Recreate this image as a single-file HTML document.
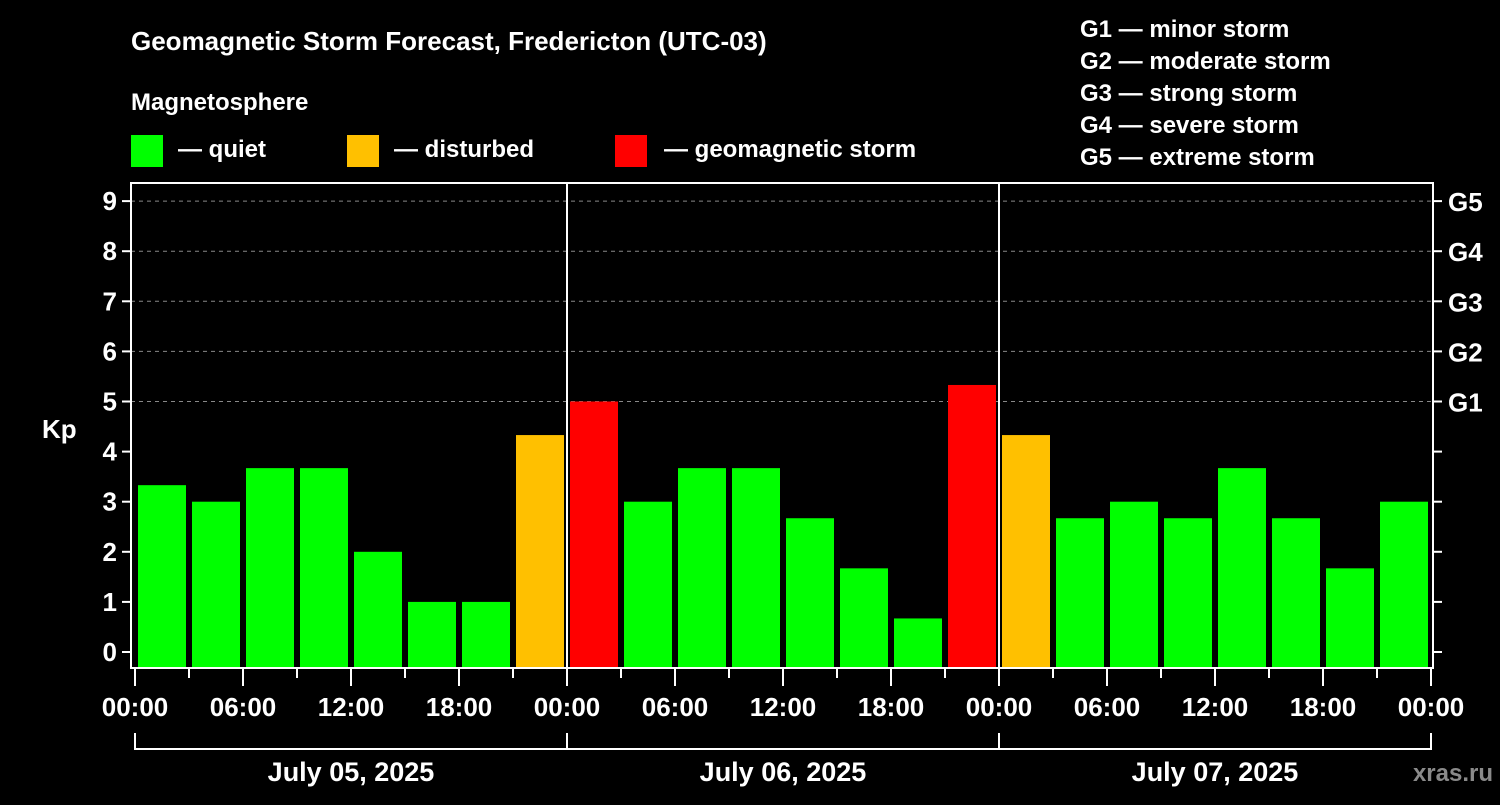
<!DOCTYPE html>
<html><head><meta charset="utf-8"><style>
body{margin:0;background:#000;width:1500px;height:800px;overflow:hidden;font-family:"Liberation Sans",sans-serif}
svg text{font-family:"Liberation Sans",sans-serif;font-weight:bold;fill:#fff}
</style></head><body>
<svg id="c" width="1500" height="800">
<text x="131" y="50" font-size="26">Geomagnetic Storm Forecast, Fredericton (UTC-03)</text>
<text x="131" y="110" font-size="24">Magnetosphere</text>
<rect x="131" y="135" width="32" height="32" fill="#00ff00"/>
<text x="178" y="157" font-size="24">— quiet</text>
<rect x="347" y="135" width="32" height="32" fill="#ffc000"/>
<text x="394" y="157" font-size="24">— disturbed</text>
<rect x="615" y="135" width="32" height="32" fill="#ff0000"/>
<text x="664" y="157" font-size="24">— geomagnetic storm</text>
<g font-size="24">
<text x="1080" y="37">G1 — minor storm</text>
<text x="1080" y="69">G2 — moderate storm</text>
<text x="1080" y="101">G3 — strong storm</text>
<text x="1080" y="133">G4 — severe storm</text>
<text x="1080" y="165">G5 — extreme storm</text>
</g>
<text x="42" y="438" font-size="26">Kp</text>
<text x="1493" y="781" font-size="24" fill="#888" style="fill:#8a8a8a" text-anchor="end">xras.ru</text>
<g id="plot"></g>
</svg>
<script>
const kpValues=[3.33,3,3.67,3.67,2,1,1,4.33, 5,3,3.67,3.67,2.67,1.67,0.67,5.33, 4.33,2.67,3,2.67,3.67,2.67,1.67,3];
const dayLabels=["July 05, 2025","July 06, 2025","July 07, 2025"];
const hourLabels=["00:00","06:00","12:00","18:00"];
const gLabels=["G1","G2","G3","G4","G5"];
const kpTicks=[0,1,2,3,4,5,6,7,8,9];
const NS="http://www.w3.org/2000/svg";
const g=document.getElementById('plot');
const L=131,R=1433,T=183,B=668,X0=135,DAYW=432;
const y=k=>652-50.1*k;
const x=h=>X0+h*DAYW/24;
function mk(t,a){const e=document.createElementNS(NS,t);for(const k in a)e.setAttribute(k,a[k]);g.appendChild(e);return e;}
kpTicks.forEach(k=>{
 if(k>=5){const l=mk('line',{x1:L,x2:R,y1:y(k),y2:y(k),stroke:'#888','stroke-dasharray':'4,4'});
 
 }
 const t=mk('line',{x1:L-9,x2:L,y1:y(k),y2:y(k),stroke:'#fff','stroke-width':2});
 
 
 const t2=mk('line',{x1:R,x2:R+9,y1:y(k),y2:y(k),stroke:'#fff','stroke-width':2});
 
 
 const tx=mk('text',{x:L-14,y:y(k)+9,'font-size':26,'text-anchor':'end'});tx.textContent=k;
 
 
});
gLabels.forEach((s,i)=>{const tx=mk('text',{x:R+15,y:y(5+i)+10,'font-size':26});tx.textContent=s;
 
 });
kpValues.forEach((v,i)=>{
 const c=v>=5?'#ff0000':(v>=4?'#ffc000':'#00ff00');
 const b=mk('rect',{x:x(i*3)+3,y:y(v),width:48,height:B-y(v),fill:c});
 
 
});
const fr=mk('rect',{x:L,y:T,width:R-L,height:B-T,fill:'none',stroke:'#fff','stroke-width':2});


for(let d=1;d<3;d++){const l=mk('line',{x1:x(d*24),x2:x(d*24),y1:T,y2:B,stroke:'#fff','stroke-width':2});
 
 }
for(let h=0;h<=72;h+=3){
 const major=h%6==0;
 const t=mk('line',{x1:x(h),x2:x(h),y1:B,y2:major?686:678,stroke:'#fff','stroke-width':2});
 
 
 if(major){const tx=mk('text',{x:x(h),y:716,'font-size':26,'text-anchor':'middle'});tx.textContent=hourLabels[(h%24)/6];
 
 }
}
const br=mk('path',{d:`M${x(0)},733V749H${x(72)}V733`+[1,2].map(d=>`M${x(d*24)},733V749`).join(''),stroke:'#fff','stroke-width':2,fill:'none'});


dayLabels.forEach((s,d)=>{const tx=mk('text',{x:x(d*24+12),y:781,'font-size':27,'text-anchor':'middle'});tx.textContent=s;
 
 });
</script>
</body></html>
